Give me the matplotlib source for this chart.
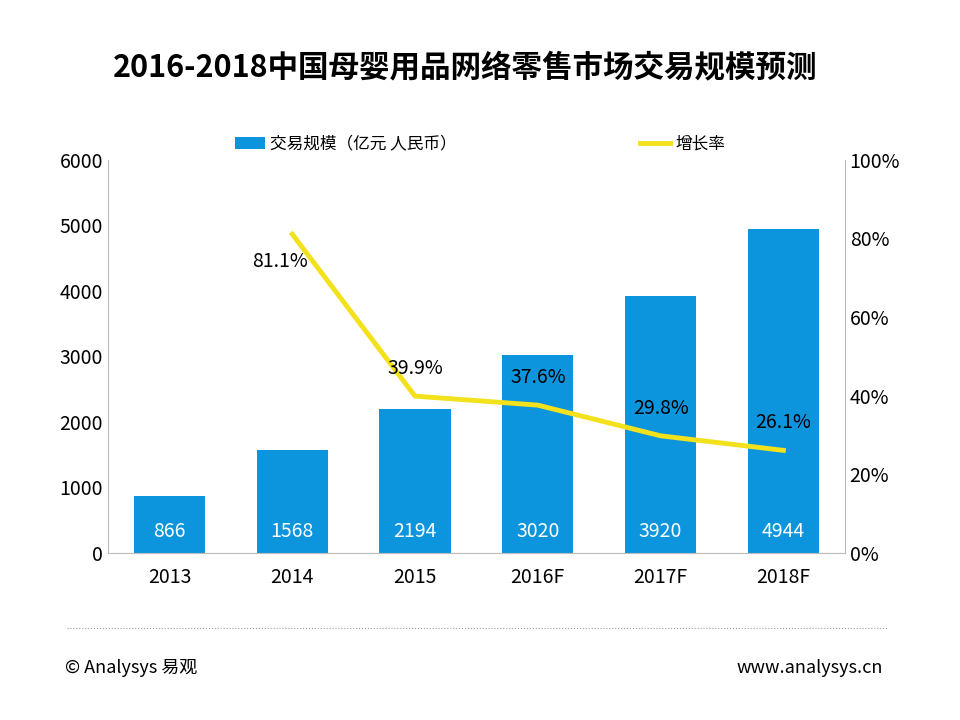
import matplotlib.pyplot as plt
from matplotlib import font_manager
from matplotlib.ticker import FuncFormatter

cjk = None
for f in font_manager.findSystemFonts():
    if 'NotoSansCJK' in f.replace(' ', '') or 'NotoSansSC' in f:
        font_manager.fontManager.addfont(f)
        cjk = font_manager.FontProperties(fname=f).get_name()
        break
plt.rcParams['font.family'] = [cjk or 'Noto Sans CJK JP', 'DejaVu Sans']

years = ['2013', '2014', '2015', '2016F', '2017F', '2018F']
volume = [866, 1568, 2194, 3020, 3920, 4944]
growth_years = ['2014', '2015', '2016F', '2017F', '2018F']
growth = [81.1, 39.9, 37.6, 29.8, 26.1]

bar_color = '#0C95DD'
line_color = '#F2E11B'

fig = plt.figure(figsize=(9.6, 7.2), dpi=100)
ax = fig.add_axes([0.1125, 0.232, 0.7675, 0.546])
x = range(len(years))
ax.bar(x, volume, width=0.58, color=bar_color, label='交易规模（亿元 人民币）')
for i, v in enumerate(volume):
    ax.text(i, 330, str(v), color='white', ha='center', va='center', fontsize=14)
ax.set_ylim(0, 6000)
ax.set_xlim(-0.5, len(years) - 0.5)
ax.set_xticks(list(x))
ax.set_xticklabels(years, fontsize=14)
ax.set_yticks(range(0, 6001, 1000))
ax.tick_params(axis='y', labelsize=14, length=0)
ax.tick_params(axis='x', length=0, pad=10)
for s in ['top', 'right']:
    ax.spines[s].set_visible(False)
ax.spines['left'].set_color('#bbbbbb')
ax.spines['bottom'].set_color('#bbbbbb')

ax2 = ax.twinx()
gx = [years.index(y) for y in growth_years]
ax2.plot(gx, growth, color=line_color, lw=3.5, label='增长率')
ax2.set_ylim(0, 100)
ax2.set_yticks(range(0, 101, 20))
ax2.yaxis.set_major_formatter(FuncFormatter(lambda v, p: f'{int(v)}%'))
ax2.tick_params(axis='y', labelsize=14, length=0)
for s in ['top', 'left', 'bottom']:
    ax2.spines[s].set_visible(False)
ax2.spines['right'].set_color('#bbbbbb')
for i, (xi, g) in enumerate(zip(gx, growth)):
    if i == 0:
        ax2.text(xi - 0.1, g - 7, f'{g}%', ha='center', va='center', fontsize=14)
    else:
        ax2.text(xi, g + 7, f'{g}%', ha='center', va='center', fontsize=14)

h1, l1 = ax.get_legend_handles_labels()
h2, l2 = ax2.get_legend_handles_labels()
fig.legend(h1 + h2, l1 + l2, loc='center', bbox_to_anchor=(0.5, 0.80), ncol=2,
           frameon=False, fontsize=12, columnspacing=11, handlelength=1.8, handletextpad=0.3)

fig.text(0.485, 0.905, '2016-2018中国母婴用品网络零售市场交易规模预测',
         ha='center', va='center', fontsize=22, fontweight='bold')
fig.add_artist(plt.Line2D([0.07, 0.925], [0.128, 0.128], color='#999999', lw=0.8, ls=':'))
fig.text(0.068, 0.072, '© Analysys 易观', fontsize=13, va='center')
fig.text(0.92, 0.072, 'www.analysys.cn', fontsize=13, va='center', ha='right')

fig.savefig('out.png', dpi=100)
